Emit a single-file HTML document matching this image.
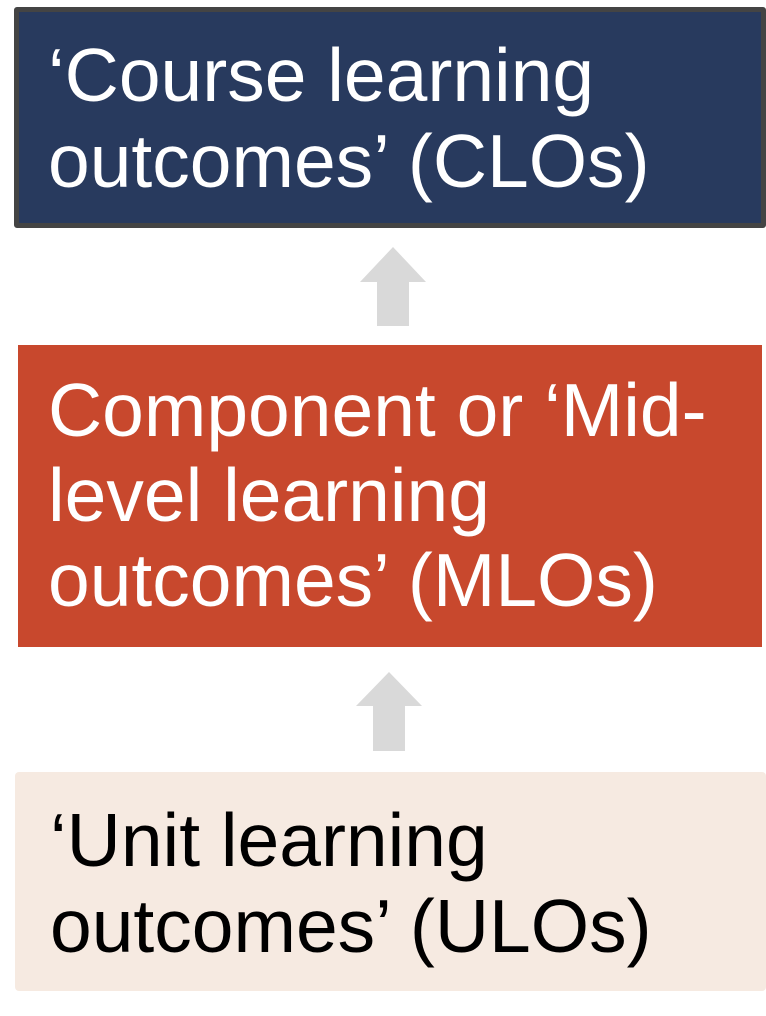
<!DOCTYPE html>
<html><head><meta charset="utf-8"><style>
html,body{margin:0;padding:0;background:#fff;}
body{width:766px;height:1016px;position:relative;overflow:hidden;font-family:"Liberation Sans",Arial,sans-serif;}
.b{position:absolute;box-sizing:border-box;}
.t{position:absolute;font-size:75px;line-height:75px;white-space:nowrap;}
</style></head><body>
<div class="b" style="left:14px;top:7px;width:752px;height:221px;background:#283A5E;border:5px solid #444;border-radius:3px;"></div>
<div class="t" style="left:48px;top:38px;color:#fff;">‘Course learning</div>
<div class="t" style="left:48px;top:124px;color:#fff;">outcomes’ (CLOs)</div>

<svg class="b" style="left:0;top:0" width="766" height="1016">
<polygon points="393,247 426,282 409,282 409,326 377,326 377,282 360,282" fill="#D9D9D9"/>
<polygon points="389,672 422,706 405,706 405,751 373,751 373,706 356,706" fill="#D9D9D9"/>
</svg>

<div class="b" style="left:18px;top:345px;width:744px;height:302px;background:#C8482D;"></div>
<div class="t" style="left:48px;top:373px;color:#fff;">Component or ‘Mid-</div>
<div class="t" style="left:48px;top:458px;color:#fff;">level learning</div>
<div class="t" style="left:48px;top:543px;color:#fff;">outcomes’ (MLOs)</div>

<div class="b" style="left:15px;top:772px;width:751px;height:219px;background:#F6EAE1;border-radius:4px;"></div>
<div class="t" style="left:50px;top:803px;color:#000;">‘Unit learning</div>
<div class="t" style="left:50px;top:889px;color:#000;">outcomes’ (ULOs)</div>
</body></html>
